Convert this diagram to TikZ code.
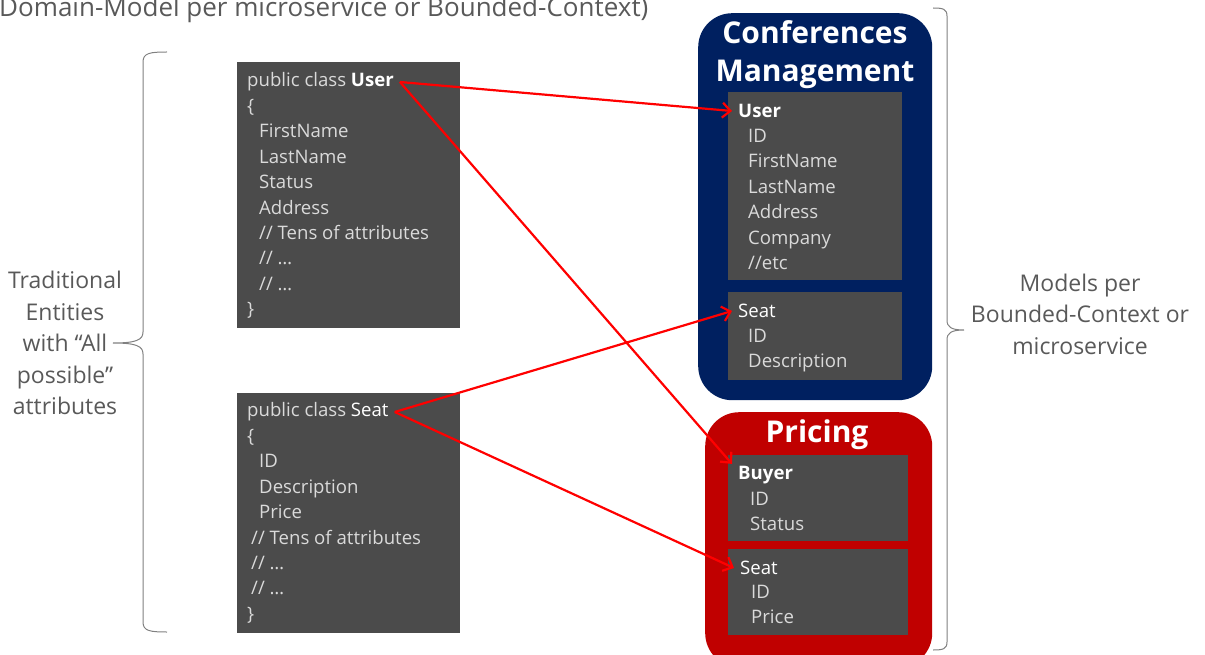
\documentclass[tikz,border=0pt]{standalone}
\usepackage{fontspec}
\setmainfont{Open Sans}
\usetikzlibrary{arrows.meta}

\definecolor{griscaja}{HTML}{4B4B4B}
\definecolor{gristexto}{HTML}{DADADA}
\definecolor{azulcontexto}{HTML}{002060}
\definecolor{rojocontexto}{HTML}{C00000}
\definecolor{grisnota}{HTML}{595959}

\tikzset{
  caja/.style={fill=griscaja, anchor=north west, inner sep=0pt},
  contexto/.style={anchor=north west, inner sep=0pt, rounded corners=34pt},
  cabecera/.style={anchor=west, inner xsep=6pt, inner ysep=2pt, text=gristexto, font=\fontsize{18.6}{25.4}\selectfont},
  cuerpo/.style={anchor=north west, inner sep=0pt, align=left, text=gristexto, font=\fontsize{18.6}{25.4}\selectfont},
  titulo/.style={text=white, align=center, font=\bfseries\fontsize{30}{38}\selectfont},
  nota/.style={text=grisnota, align=center, font=\fontsize{23}{31.5}\selectfont},
  llave/.style={draw=gray, line width=1pt},
  flecha/.style={draw=red, line width=2.2pt, -{Straight Barb[length=8pt,width=15pt]}},
}

\begin{document}
\begin{tikzpicture}[x=1pt, y=-1pt]
    \useasboundingbox (0,0) rectangle (1205,655);

    % Titulo cortado arriba.
    \node[anchor=base west, inner sep=0pt, text=grisnota, font=\fontsize{26}{30}\selectfont] (titulo) at (-1,17) {Domain-Model per microservice or Bounded-Context)};

    % Clases tradicionales a la izquierda.
    \node[caja, minimum width=223pt, minimum height=266pt] (cuser) at (237,62) {};
    \node[cabecera] (huser) at (241,82) {public class \textcolor{white}{\bfseries User}};
    \node[cuerpo] (buser) at (247,99) {\{\\
        \hspace*{12pt}FirstName\\
        \hspace*{12pt}LastName\\
        \hspace*{12pt}Status\\
        \hspace*{12pt}Address\\
        \hspace*{12pt}// Tens of attributes\\
        \hspace*{12pt}// …\\
        \hspace*{12pt}// …\\
        \}};

    \node[caja, minimum width=223pt, minimum height=240pt] (cseat) at (237,393) {};
    \node[cabecera] (hseat) at (241,412) {public class \textcolor{white}{Seat}};
    \node[cuerpo] (bseat) at (247,429) {\{\\
        \hspace*{12pt}ID\\
        \hspace*{12pt}Description\\
        \hspace*{12pt}Price\\
        \hspace*{4pt}// Tens of attributes\\
        \hspace*{4pt}// …\\
        \hspace*{4pt}// …\\
        \}};

    % Contexto Conferences Management.
    \node[contexto, fill=azulcontexto, minimum width=234pt, minimum height=387pt] (cm) at (698,13) {};
    \node[titulo] (tcm) at (815,55) {Conferences\\Management};
    \node[caja, minimum width=174pt, minimum height=188pt] (cmuser) at (728,92) {};
    \node[cabecera, text=white, font=\bfseries\fontsize{18.6}{25.4}\selectfont] (hcmuser) at (732,111) {User};
    \node[cuerpo] (bcmuser) at (748,129) {ID\\FirstName\\LastName\\Address\\Company\\//etc};
    \node[caja, minimum width=174pt, minimum height=88pt] (cmseat) at (728,292) {};
    \node[cabecera, text=white] (hcmseat) at (732,311) {Seat};
    \node[cuerpo] (bcmseat) at (748,329) {ID\\Description};

    % Contexto Pricing.
    \node[contexto, fill=rojocontexto, minimum width=227pt, minimum height=255pt] (pr) at (705,412) {};
    \node[titulo] (tpr) at (817,435) {Pricing};
    \node[caja, minimum width=180pt, minimum height=86pt] (prbuyer) at (728,455) {};
    \node[cabecera, text=white, font=\bfseries\fontsize{18.6}{25.4}\selectfont] (hprbuyer) at (732,475) {Buyer};
    \node[cuerpo] (bprbuyer) at (750,492) {ID\\Status};
    \node[caja, minimum width=180pt, minimum height=86pt] (prseat) at (728,549) {};
    \node[cabecera, text=white] (hprseat) at (734,568) {Seat};
    \node[cuerpo] (bprseat) at (751,585) {ID\\Price};

    % Llaves y notas.
    \draw[llave] (167,52) .. controls (150,52) and (143,53) .. (143,62) -- (143,332)
        .. controls (143,340) and (136,343) .. (113,343)
        .. controls (136,343) and (143,346) .. (143,354) -- (143,622)
        .. controls (143,631) and (150,632) .. (167,632);
    \node[nota] (ntrad) at (65,343) {Traditional\\Entities\\with “All\\possible”\\attributes};
    \draw[llave] (933,8) .. controls (943,8) and (947,9) .. (947,16) -- (947,320)
        .. controls (947,327) and (951,330) .. (964,330)
        .. controls (951,330) and (947,333) .. (947,340) -- (947,642)
        .. controls (947,649) and (943,650) .. (933,650);
    \node[nota] (nmod) at (1080,314) {Models per\\Bounded-Context or\\microservice};

    % Flechas de clase a modelo.
    \draw[flecha] (huser.east) -- (hcmuser.west);
    \draw[flecha] (huser.east) -- (hprbuyer.north west);
    \draw[flecha] (hseat.east) -- (hcmseat.west);
    \draw[flecha] (hseat.east) -- (hprseat.west);
\end{tikzpicture}
\end{document}
